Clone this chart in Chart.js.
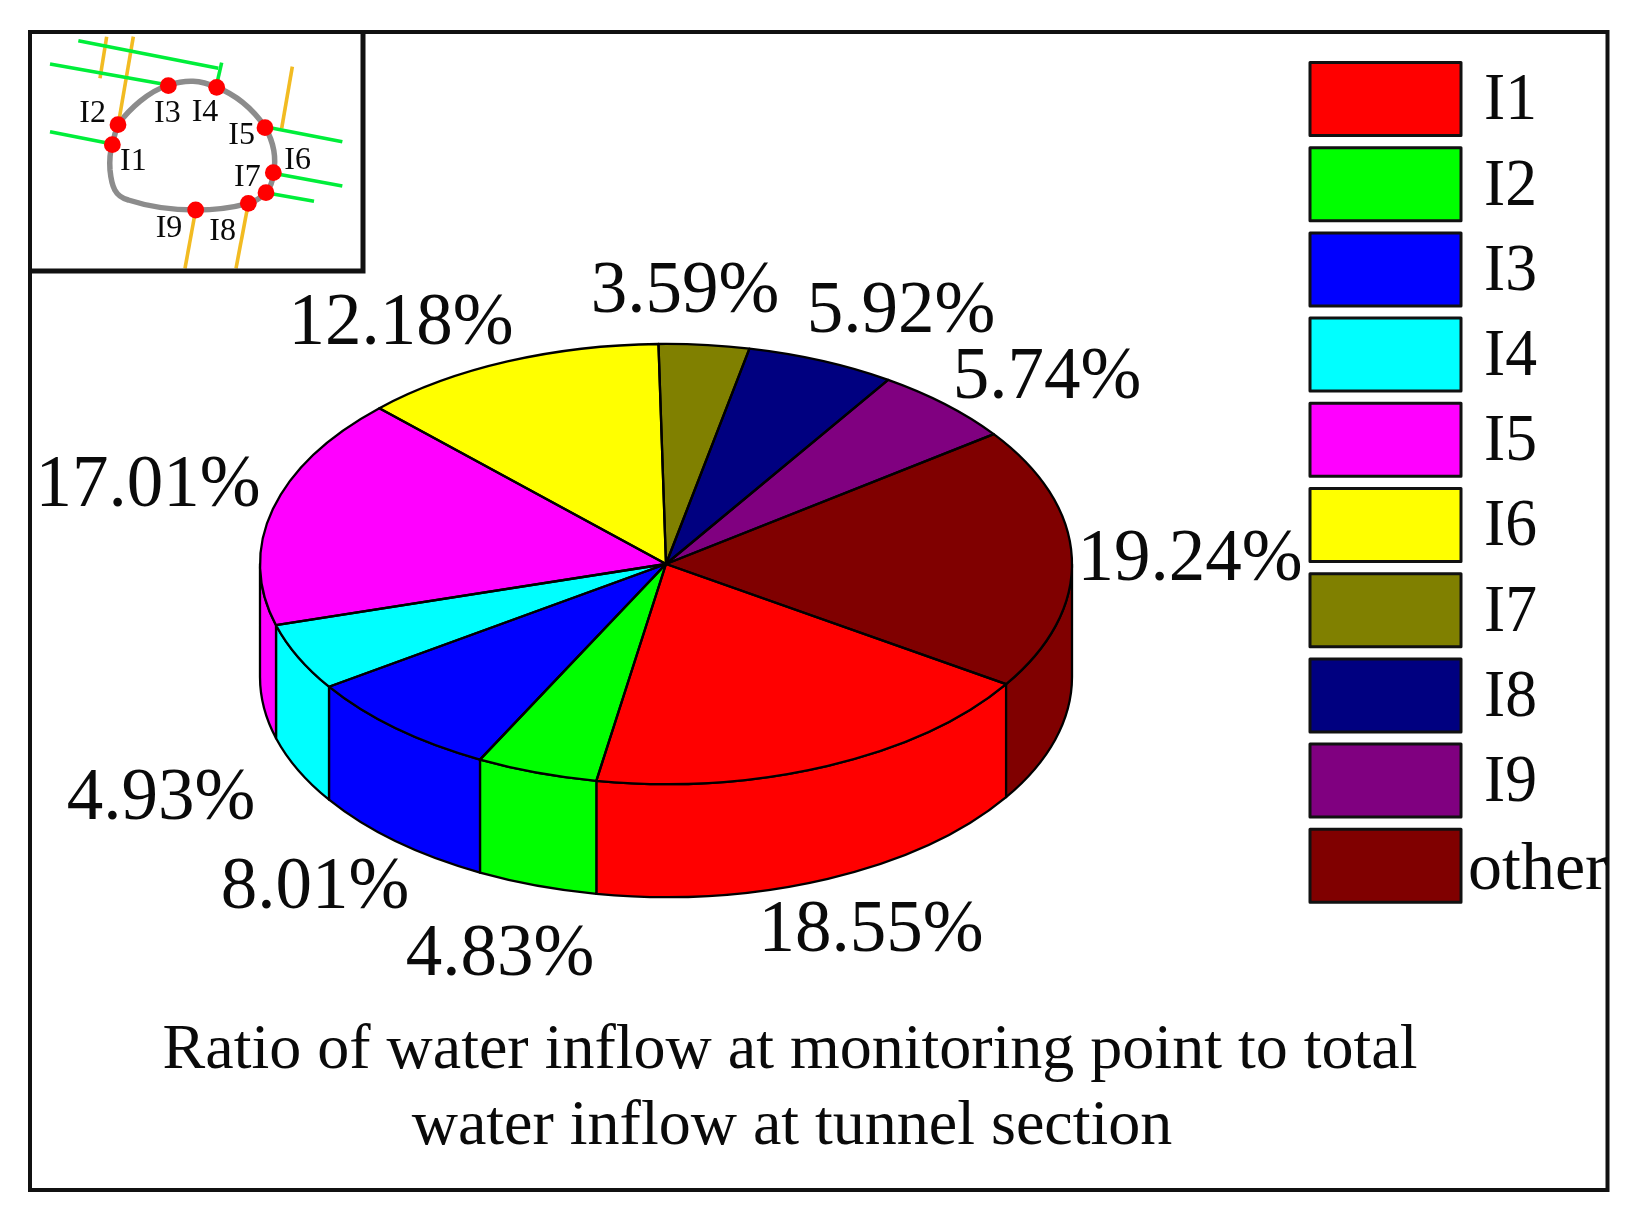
<!DOCTYPE html>
<html><head><meta charset="utf-8"><style>html,body{margin:0;padding:0;background:#fff}canvas{display:block}</style>
<script src="https://cdn.jsdelivr.net/npm/chart.js@4"></script></head><body>
<canvas id="c" width="1630" height="1226"></canvas>
<script>
const categories = ['I1','I2','I3','I4','I5','I6','I7','I8','I9','other'];
const ratioValues = [18.55,4.83,8.01,4.93,17.01,12.18,3.59,5.92,5.74,19.24];
const sliceColors = ['#ff0000','#00ff00','#0000ff','#00ffff','#ff00ff','#ffff00','#808000','#000080','#800080','#800000'];
const titleLines = ['Ratio of water inflow at monitoring point to total','water inflow at tunnel section'];
const FONT = '"Liberation Serif","Times New Roman",serif';
const SQUASH = 0.542, DEPTH = 113;
// layout of the percent labels (text centres), same order as categories
const labelCentres = [[871,932],[500,956],[315,889],[161,800],[148,487],[401,325],[685,293],[901,313],[1047,379],[1190,561]];

function arcs(chart){return chart.getDatasetMeta(0).data.map(a=>a.getProps(['x','y','startAngle','endAngle','outerRadius'],true));}
function text(ctx,s,x,y,size,align,maxW){ctx.font=size+'px '+FONT;ctx.fillStyle='#0a0a0a';ctx.textAlign=align||'center';ctx.textBaseline='middle';if(maxW)ctx.fillText(s,x,y,maxW);else ctx.fillText(s,x,y);}
function poly(ctx,pts,color,w){ctx.beginPath();ctx.strokeStyle=color;ctx.lineWidth=w;ctx.lineCap='butt';pts.forEach((p,i)=>i?ctx.lineTo(p[0]/3,p[1]/3):ctx.moveTo(p[0]/3,p[1]/3));ctx.stroke();}

function drawInset(ctx){
  ctx.beginPath();ctx.strokeStyle='#8c8c8c';ctx.lineWidth=5.5;ctx.lineJoin='round';
  ctx.moveTo(505/3,255/3);
  ctx.bezierCurveTo(560/3,238/3,600/3,240/3,650/3,262/3);
  ctx.bezierCurveTo(710/3,285/3,760/3,330/3,795/3,380/3);
  ctx.bezierCurveTo(820/3,425/3,830/3,475/3,820/3,520/3);
  ctx.bezierCurveTo(818/3,545/3,810/3,565/3,798/3,578/3);
  ctx.bezierCurveTo(780/3,595/3,765/3,605/3,745/3,610/3);
  ctx.bezierCurveTo(690/3,625/3,640/3,630/3,587/3,630/3);
  ctx.bezierCurveTo(510/3,630/3,440/3,618/3,385/3,600/3);
  ctx.bezierCurveTo(345/3,590/3,335/3,560/3,330/3,510/3);
  ctx.bezierCurveTo(328/3,480/3,330/3,455/3,337/3,432/3);
  ctx.bezierCurveTo(342/3,410/3,348/3,390/3,355/3,372/3);
  ctx.bezierCurveTo(390/3,325/3,445/3,275/3,505/3,255/3);
  ctx.stroke();
  const green='#00ee3a', orange='#f2bb22';
  [[[320,110],[300,235]],[[400,110],[355,372]],[[877,200],[845,385]],[[587,630],[555,805]],[[745,610],[708,805]]].forEach(l=>poly(ctx,l,orange,3.6));
  [[[235,122],[655,205]],[[665,188],[652,245]],[[150,192],[505,255]],[[150,395],[337,432]],[[795,380],[1027,425]],[[820,520],[1027,558]],[[798,578],[942,604]]].forEach(l=>poly(ctx,l,green,3.6));
  ctx.fillStyle='#ff0000';
  [[505,257],[650,262],[354,374],[337,434],[795,383],[820,518],[798,578],[745,610],[587,630]].forEach(p=>{ctx.beginPath();ctx.arc(p[0]/3,p[1]/3,8.4,0,Math.PI*2);ctx.fill();});
  [['I2',278,341],['I3',502,341],['I4',615,339],['I5',725,408],['I1',400,486],['I6',893,481],['I7',742,533],['I9',507,686],['I8',668,696]].forEach(t=>text(ctx,t[0],t[1]/3,t[2]/3,32));
  ctx.strokeStyle='#111';ctx.lineWidth=5;ctx.lineJoin='miter';
  ctx.beginPath();ctx.moveTo(363,32);ctx.lineTo(363,271);ctx.lineTo(31,271);ctx.stroke();
}

const pie3d = {
  id:'pie3d',
  beforeDatasetsDraw(chart){
    const ctx=chart.ctx;
    ctx.save();
    ctx.strokeStyle='#111';ctx.lineWidth=4;ctx.strokeRect(30,32,1577.5,1158);
    drawInset(ctx);
    ctx.lineWidth=2.3;ctx.strokeStyle='#000';ctx.lineJoin='round';
    arcs(chart).forEach((a,i)=>{
      const ry=a.outerRadius*SQUASH;
      [[0,Math.PI],[2*Math.PI,3*Math.PI]].forEach(w=>{
        const s=Math.max(a.startAngle,w[0]), e=Math.min(a.endAngle,w[1]);
        if(e<=s) return;
        ctx.beginPath();
        ctx.ellipse(a.x,a.y,a.outerRadius,ry,0,s,e);
        ctx.ellipse(a.x,a.y+DEPTH,a.outerRadius,ry,0,e,s,true);
        ctx.closePath();
        ctx.fillStyle=sliceColors[i];ctx.fill();ctx.stroke();
      });
    });
    ctx.restore();
    const a0=arcs(chart)[0];
    ctx.save();
    ctx.translate(a0.x,a0.y);ctx.scale(1,SQUASH);ctx.translate(-a0.x,-a0.y);
  },
  afterDatasetsDraw(chart){
    const ctx=chart.ctx;
    ctx.restore();
    ctx.save();
    ctx.lineWidth=2.3;ctx.strokeStyle='#000';ctx.lineJoin='round';
    arcs(chart).forEach(a=>{
      ctx.beginPath();ctx.moveTo(a.x,a.y);
      ctx.ellipse(a.x,a.y,a.outerRadius,a.outerRadius*SQUASH,0,a.startAngle,a.endAngle);
      ctx.closePath();ctx.stroke();
    });
    ratioValues.forEach((v,i)=>text(ctx,v.toFixed(2)+'%',labelCentres[i][0],labelCentres[i][1],73));
    categories.forEach((c,i)=>{
      const y=62.5+i*85.2;
      ctx.fillStyle=sliceColors[i];ctx.fillRect(1310,y,151,73);
      ctx.strokeStyle='#111';ctx.lineWidth=3;ctx.strokeRect(1310,y,151,73);
      if(c==='other') text(ctx,c,1468,y+42,68,'left');
      else text(ctx,c,1484,y+39,68,'left',53);
    });
    text(ctx,titleLines[0],790,1051,64);
    text(ctx,titleLines[1],792,1127,64);
    ctx.restore();
  }
};

new Chart(document.getElementById('c'),{
  type:'pie',
  data:{labels:categories,datasets:[{data:ratioValues,backgroundColor:sliceColors,borderWidth:0,hoverOffset:0}]},
  options:{
    responsive:false,animation:false,events:[],rotation:123.1,
    layout:{padding:{left:260,right:558,top:158,bottom:256}},
    plugins:{legend:{display:false},tooltip:{enabled:false},title:{display:false}}
  },
  plugins:[pie3d]
});
</script></body></html>
